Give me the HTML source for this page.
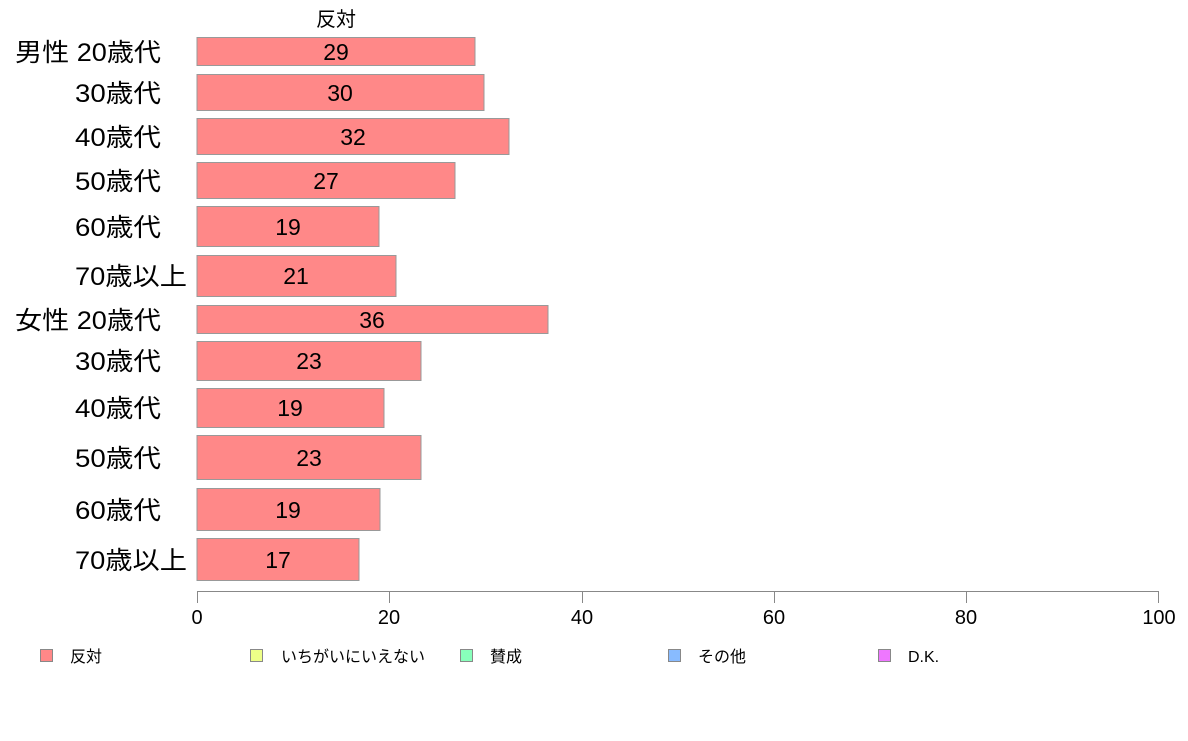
<!DOCTYPE html>
<html><head><meta charset="utf-8"><style>
body{margin:0;background:#fff}
svg text{font-family:"Liberation Sans","Noto Sans CJK JP",sans-serif;fill:#000}
</style></head><body>
<svg width="1188" height="736" xmlns="http://www.w3.org/2000/svg">
<text x="336" y="26" font-size="20" text-anchor="middle">反対</text>
<g fill="#ff8888" stroke="#999" stroke-width="1">
<rect x="197" y="37.5" width="278" height="28"/>
<rect x="197" y="74.5" width="287" height="36"/>
<rect x="197" y="118.5" width="312" height="36"/>
<rect x="197" y="162.5" width="258" height="36"/>
<rect x="197" y="206.5" width="182" height="40"/>
<rect x="197" y="255.5" width="199" height="41"/>
<rect x="197" y="305.5" width="351" height="28"/>
<rect x="197" y="341.5" width="224" height="39"/>
<rect x="197" y="388.5" width="187" height="39"/>
<rect x="197" y="435.5" width="224" height="44"/>
<rect x="197" y="488.5" width="183" height="42"/>
<rect x="197" y="538.5" width="162" height="42"/>
</g>
<g font-size="23" text-anchor="middle">
<text x="336" y="60">29</text>
<text x="340" y="101">30</text>
<text x="353" y="145">32</text>
<text x="326" y="189">27</text>
<text x="288" y="235">19</text>
<text x="296" y="284">21</text>
<text x="372" y="328">36</text>
<text x="309" y="369">23</text>
<text x="290" y="416">19</text>
<text x="309" y="466">23</text>
<text x="288" y="518">19</text>
<text x="278" y="568">17</text>
</g>
<g font-size="25">
<text x="15" y="61" textLength="146" lengthAdjust="spacingAndGlyphs">男性 20歳代</text>
<text x="75" y="102" textLength="86" lengthAdjust="spacingAndGlyphs">30歳代</text>
<text x="75" y="146" textLength="86" lengthAdjust="spacingAndGlyphs">40歳代</text>
<text x="75" y="190" textLength="86" lengthAdjust="spacingAndGlyphs">50歳代</text>
<text x="75" y="236" textLength="86" lengthAdjust="spacingAndGlyphs">60歳代</text>
<text x="75" y="285" textLength="112" lengthAdjust="spacingAndGlyphs">70歳以上</text>
<text x="15" y="329" textLength="146" lengthAdjust="spacingAndGlyphs">女性 20歳代</text>
<text x="75" y="370" textLength="86" lengthAdjust="spacingAndGlyphs">30歳代</text>
<text x="75" y="417" textLength="86" lengthAdjust="spacingAndGlyphs">40歳代</text>
<text x="75" y="467" textLength="86" lengthAdjust="spacingAndGlyphs">50歳代</text>
<text x="75" y="519" textLength="86" lengthAdjust="spacingAndGlyphs">60歳代</text>
<text x="75" y="569" textLength="112" lengthAdjust="spacingAndGlyphs">70歳以上</text>
</g>
<g stroke="#888" stroke-width="1">
<line x1="197" y1="591.5" x2="1159" y2="591.5"/>
<line x1="197.5" y1="591" x2="197.5" y2="603"/>
<line x1="389.5" y1="591" x2="389.5" y2="603"/>
<line x1="582.5" y1="591" x2="582.5" y2="603"/>
<line x1="774.5" y1="591" x2="774.5" y2="603"/>
<line x1="966.5" y1="591" x2="966.5" y2="603"/>
<line x1="1158.5" y1="591" x2="1158.5" y2="603"/>
</g>
<g font-size="20" text-anchor="middle">
<text x="197" y="624">0</text><text x="389" y="624">20</text><text x="582" y="624">40</text>
<text x="774" y="624">60</text><text x="966" y="624">80</text><text x="1159" y="624">100</text>
</g>
<g stroke="#888" stroke-width="1">
<rect x="40.5" y="649.5" width="12" height="12" fill="#ff8888"/>
<rect x="250.5" y="649.5" width="12" height="12" fill="#eeff88"/>
<rect x="460.5" y="649.5" width="12" height="12" fill="#88ffbb"/>
<rect x="668.5" y="649.5" width="12" height="12" fill="#88bbff"/>
<rect x="878.5" y="649.5" width="12" height="12" fill="#ee77ff"/>
</g>
<g font-size="16">
<text x="70" y="662">反対</text>
<text x="281" y="662">いちがいにいえない</text>
<text x="490" y="662">賛成</text>
<text x="698" y="662">その他</text>
<text x="908" y="662">D.K.</text>
</g>
</svg>
</body></html>
